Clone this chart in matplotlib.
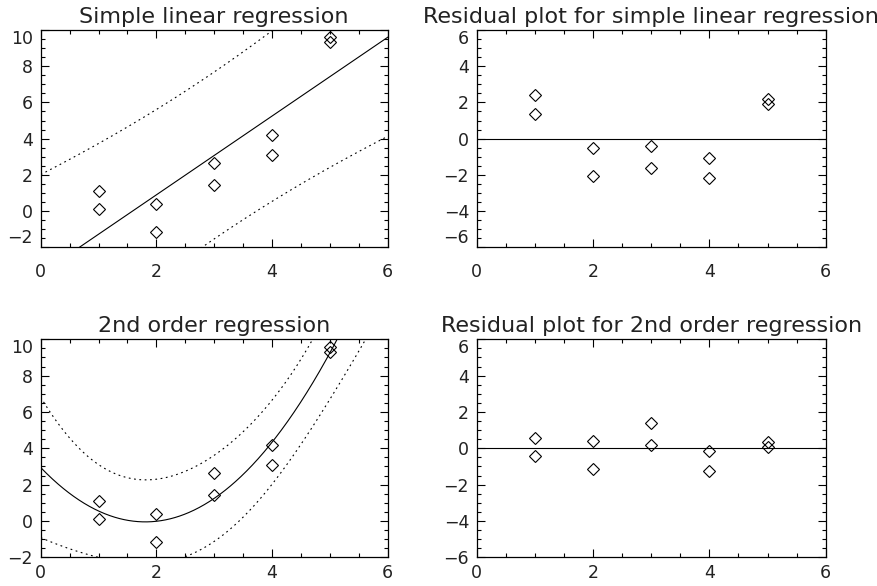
import numpy as np
import matplotlib
matplotlib.use("Agg")
import matplotlib.pyplot as plt
from matplotlib.ticker import MultipleLocator

# Observations: two measurements at each x
x_obs = [1, 1, 2, 2, 3, 3, 4, 4, 5, 5]
y_obs = [1.11, 0.10, 0.38, -1.17, 2.64, 1.44, 4.20, 3.10, 9.60, 9.32]

titles = [
    "Simple linear regression",
    "Residual plot for simple linear regression",
    "2nd order regression",
    "Residual plot for 2nd order regression",
]
x_ticks = [0, 2, 4, 6]
fit_ticks = [-2, 0, 2, 4, 6, 8, 10]
resid_ticks = [-6, -4, -2, 0, 2, 4, 6]

# Student t quantiles (0.975) for the residual degrees of freedom
t975 = {8: 2.306, 7: 2.365}

plt.rcParams["font.family"] = ["DejaVu Sans"]

x = np.asarray(x_obs, float)
y = np.asarray(y_obs, float)
xs = np.linspace(0, 6, 601)


def poly_fit(deg):
    """Least-squares polynomial fit with a 95% prediction band."""
    X = np.vander(x, deg + 1, increasing=True)
    beta, *_ = np.linalg.lstsq(X, y, rcond=None)
    resid = y - X @ beta
    dof = len(x) - (deg + 1)
    s = np.sqrt(np.sum(resid ** 2) / dof)
    XtX_inv = np.linalg.inv(X.T @ X)
    Xs = np.vander(xs, deg + 1, increasing=True)
    fit = Xs @ beta
    lev = np.einsum("ij,jk,ik->i", Xs, XtX_inv, Xs)
    half = t975[dof] * s * np.sqrt(1 + lev)
    return fit, fit - half, fit + half, resid


W, H = 878, 586
fig = plt.figure(figsize=(W / 100, H / 100), dpi=100)

# panel boxes in pixels: left, top, width, height
boxes = [
    (40.7, 30.0, 347.0, 217.3),
    (476.7, 30.0, 349.0, 217.3),
    (40.7, 339.3, 347.0, 218.0),
    (476.7, 339.3, 349.0, 218.0),
]
axes = []
for (l, t, w, h) in boxes:
    axes.append(fig.add_axes([l / W, 1 - (t + h) / H, w / W, h / H]))

line_kw = dict(color="black", lw=0.8)
dot_kw = dict(color="black", lw=0.8, linestyle=(0, (1.6, 3.2)))
mk_kw = dict(linestyle="none", marker="D", ms=6.3, mfc="none", mec="black", mew=0.8)

for i, deg in enumerate([1, 2]):
    fit, lo, hi, resid = poly_fit(deg)
    ax_fit = axes[2 * i]
    ax_res = axes[2 * i + 1]

    ax_fit.plot(xs, fit, **line_kw)
    ax_fit.plot(xs, lo, **dot_kw)
    ax_fit.plot(xs, hi, **dot_kw)
    ax_fit.plot(x, y, **mk_kw)
    ax_fit.set_ylim(-2, 10)
    ax_fit.set_yticks(fit_ticks)

    ax_res.axhline(0, **line_kw)
    ax_res.plot(x, resid, **mk_kw)
    ax_res.set_ylim(-6, 6)
    ax_res.set_yticks(resid_ticks)

for k, (ax, title) in enumerate(zip(axes, titles)):
    ax.set_xlim(0, 6)
    ax.set_xticks(x_ticks)
    ax.xaxis.set_minor_locator(MultipleLocator(0.5))
    ax.yaxis.set_minor_locator(MultipleLocator(0.5))
    ax.tick_params(which="both", direction="in", top=True, right=True,
                   width=0.8, color="black")
    ax.tick_params(which="major", length=6)
    ax.tick_params(which="minor", length=3)
    ax.tick_params(axis="x", which="major", pad=(11 if k < 2 else 4.5),
                   labelsize=12.5, labelcolor="#222222")
    ax.tick_params(axis="y", which="major", pad=5.5, labelsize=12.5,
                   labelcolor="#222222")
    for sp in ax.spines.values():
        sp.set_linewidth(0.9)
    ax.set_title(title, fontsize=16, pad=5, color="#222222")

fig.canvas.draw()
for k, ax in enumerate(axes):
    labels = ax.get_yticklabels()
    labels[-1].set_va("top")
    if k < 2:
        labels[0].set_va("bottom")

fig.savefig("out.png", dpi=100)
